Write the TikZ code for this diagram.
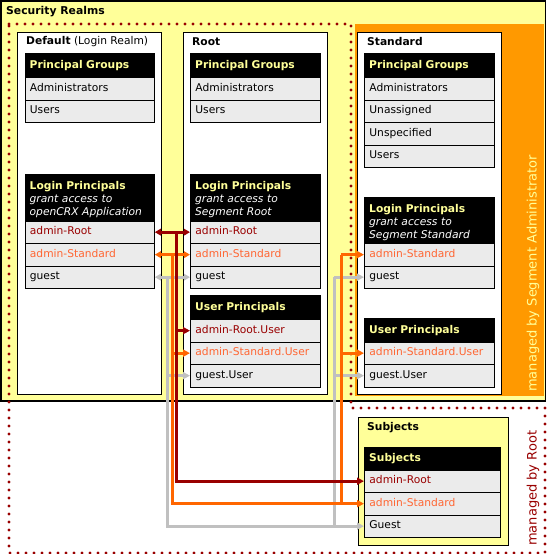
\documentclass[tikz,border=0pt]{standalone}
\usepackage{fontspec}
\setmainfont{DejaVu Sans}
\usetikzlibrary{arrows.meta}
\definecolor{realmyellow}{HTML}{FFFF99}
\definecolor{segorange}{HTML}{FF9900}
\definecolor{rowgray}{HTML}{EBEBEB}
\definecolor{darkred}{HTML}{990000}
\definecolor{rootred}{HTML}{990000}
\definecolor{stdtext}{HTML}{FF6633}
\definecolor{orangeline}{HTML}{FF6600}
\definecolor{grayline}{HTML}{C0C0C0}
\begin{document}
\begin{tikzpicture}[x=1pt,y=-1pt,
  every node/.style={font=\fontsize{10.7}{13}\selectfont},
  hdr/.style={fill=black, draw=black, text=realmyellow, anchor=north west,
    text width=#1, inner xsep=5pt, inner ysep=0pt, align=left,
    minimum height=24pt, font=\fontsize{10.7}{13}\selectfont\bfseries},
  hdr/.default=119.5pt,
  hdrtall/.style={hdr=#1, minimum height=47pt},
  hdrtall/.default=119.5pt,
  rowc/.style={fill=rowgray, draw=black, line width=0.8pt, anchor=north west,
    text width=#1, inner xsep=5pt, inner ysep=0pt, align=left,
    minimum height=22.5pt, text height=8pt, text depth=2.5pt},
  rowc/.default=119.5pt,
  realmbox/.style={draw=black, line width=0.8pt, fill=white},
  boxtitle/.style={anchor=west, inner sep=0pt},
  link/.style={line width=3pt},
  lred/.style={link, draw=darkred},
  lorange/.style={link, draw=orangeline},
  lgray/.style={link, draw=grayline},
  tip/.style={-{Triangle[length=7pt,width=7pt]}},
  tips/.style={{Triangle[length=6pt,width=6.5pt]}-{Triangle[length=6pt,width=6.5pt]}},
  dotline/.style={draw=darkred, line width=3.2pt, line cap=round, dash pattern=on 0pt off 8pt},
  managed/.style={rotate=90, anchor=west, inner sep=0pt, font=\fontsize{13}{15}\selectfont},
]
\useasboundingbox (0,0) rectangle (547,554);

% outer realms area
\fill[white] (0,0) rectangle (547,554);
\draw[fill=realmyellow, line width=1.5pt] (0.75,0.75) rectangle (545.5,401);
\node[boxtitle, font=\fontsize{10.8}{13}\selectfont\bfseries] (title) at (6,12) {Security Realms};

% segment administrator area
\fill[segorange] (355,24) rectangle (544,396);

% managed by Root region
\draw[dotline] (9,24) -- (351,24) -- (351,408) -- (545,408) -- (545,553) -- (9,553) -- cycle;

% realm boxes
\draw[realmbox] (17,32) rectangle (161,394);
\draw[realmbox] (183,32) rectangle (327,394);
\draw[realmbox] (357,32) rectangle (501,394);
\draw[realmbox, fill=realmyellow] (358,417) rectangle (508,545);

\node[boxtitle] (tDefault) at (26,42) {\textbf{Default} (Login Realm)};
\node[boxtitle] (tRoot) at (192,42) {\textbf{Root}};
\node[boxtitle] (tStd) at (367,42) {\textbf{Standard}};
\node[boxtitle] (tSubj) at (367,428) {\textbf{Subjects}};

% ---------- Default ----------
\node[hdr] (dPG) at (24.5,53) {Principal Groups};
\node[rowc] (dPGa) at (24.5,77) {Administrators};
\node[rowc] (dPGu) at (24.5,99.5) {Users};

\node[hdrtall] (dLP) at (24.5,174) {\rule{0pt}{12pt}Login Principals\\
  {\normalfont\itshape\color{white}grant access to}\\ {\normalfont\itshape\color{white}openCRX Application}};
\node[rowc, text=rootred] (dAR) at (24.5,220.5) {admin-Root};
\node[rowc, text=stdtext] (dAS) at (24.5,243) {admin-Standard};
\node[rowc] (dG) at (24.5,265.5) {guest};

% ---------- Root ----------
\node[hdr] (rPG) at (190,53) {Principal Groups};
\node[rowc] (rPGa) at (190,77) {Administrators};
\node[rowc] (rPGu) at (190,99.5) {Users};

\node[hdrtall] (rLP) at (190,174) {\rule{0pt}{12pt}Login Principals\\
  {\normalfont\itshape\color{white}grant access to}\\ {\normalfont\itshape\color{white}Segment Root}};
\node[rowc, text=rootred] (rAR) at (190,220.5) {admin-Root};
\node[rowc, text=stdtext] (rAS) at (190,243) {admin-Standard};
\node[rowc] (rG) at (190,265.5) {guest};

\node[hdr] (rUP) at (190,295) {User Principals};
\node[rowc, text=rootred] (rARu) at (190,319) {admin-Root.User};
\node[rowc, text=stdtext] (rASu) at (190,341.5) {admin-Standard.User};
\node[rowc] (rGu) at (190,364) {guest.User};

% ---------- Standard ----------
\node[hdr] (sPG) at (364,53) {Principal Groups};
\node[rowc] (sPGa) at (364,77) {Administrators};
\node[rowc] (sPGun) at (364,99.5) {Unassigned};
\node[rowc] (sPGsp) at (364,122) {Unspecified};
\node[rowc] (sPGu) at (364,144.5) {Users};

\node[hdrtall] (sLP) at (364,197) {\rule{0pt}{12pt}Login Principals\\
  {\normalfont\itshape\color{white}grant access to}\\ {\normalfont\itshape\color{white}Segment Standard}};
\node[rowc, text=stdtext] (sAS) at (364,243) {admin-Standard};
\node[rowc] (sG) at (364,265.5) {guest};

\node[hdr] (sUP) at (364,318) {User Principals};
\node[rowc, text=stdtext] (sASu) at (364,341.5) {admin-Standard.User};
\node[rowc] (sGu) at (364,364) {guest.User};

% ---------- Subjects ----------
\node[hdr=126pt, minimum height=22.5pt] (jH) at (364,447) {Subjects};
\node[rowc=126pt, text=rootred] (jAR) at (364,469.5) {admin-Root};
\node[rowc=126pt, text=stdtext] (jAS) at (364,492) {admin-Standard};
\node[rowc=126pt] (jG) at (364,514.5) {Guest};

% managed-by labels
\node[managed, text=realmyellow] (mSeg) at (533,392) {managed by Segment Administrator};
\node[managed, text=darkred] (mRoot) at (533,546) {managed by Root};

% trunk coordinates
\coordinate (grayT) at (167,0);
\coordinate (orT) at (172,0);
\coordinate (redT) at (176.5,0);
\coordinate (grayS) at (334,0);
\coordinate (orS) at (341,0);

% ---------- connectors ----------
% gray (guest)
\draw[lgray, tip] (dG.east -| grayT) |- (jG.west);
\draw[lgray, tips] (dG.east) -- (rG.west);
\draw[lgray, tip] (rGu.west -| grayT) -- (rGu.west);
\draw[lgray, tip] (sG.west -| grayS) -- (sG.west);
\draw[lgray] (sG.west -| grayS) -- (jG.west -| grayS);
\draw[lgray, tip] (sGu.west -| grayS) -- (sGu.west);

% orange (admin-Standard)
\draw[lorange, tip] (dAS.east -| orT) |- (jAS.west);
\draw[lorange, tips] (dAS.east) -- (rAS.west);
\draw[lorange, tip] (rASu.west -| orT) -- (rASu.west);
\draw[lorange, tip] (sAS.west -| orS) -- (sAS.west);
\draw[lorange] (sAS.west -| orS) -- (jAS.west -| orS);
\draw[lorange, tip] (sASu.west -| orS) -- (sASu.west);

% dark red (admin-Root)
\draw[lred, tip] (dAR.east -| redT) |- (jAR.west);
\draw[lred, tips] (dAR.east) -- (rAR.west);
\draw[lred, tip] (rARu.west -| redT) -- (rARu.west);
\end{tikzpicture}
\end{document}
